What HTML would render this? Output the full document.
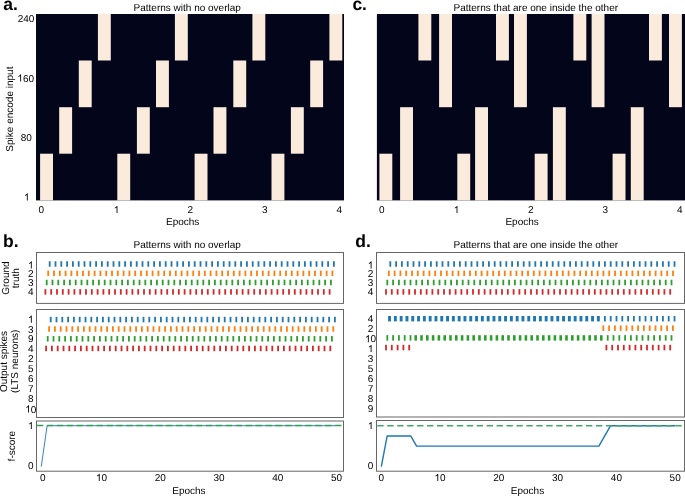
<!DOCTYPE html>
<html><head><meta charset="utf-8"><style>
html,body{margin:0;padding:0;background:#fff;}
svg{display:block;will-change:transform;}
text{font-family:"Liberation Sans",sans-serif;text-rendering:geometricPrecision;}
</style></head><body>
<svg width="685" height="496" viewBox="0 0 685 496">
<rect x="0" y="0" width="685" height="496" fill="#fff"/>
<text x="3.2" y="9.7" text-anchor="start" font-size="17.5" font-weight="bold" fill="#000">a.</text>
<text x="352.4" y="9.7" text-anchor="start" font-size="17.5" font-weight="bold" fill="#000">c.</text>
<text x="3.1" y="246.9" text-anchor="start" font-size="17.5" font-weight="bold" fill="#000">b.</text>
<text x="355.3" y="246.9" text-anchor="start" font-size="17.5" font-weight="bold" fill="#000">d.</text>
<rect x="36" y="14" width="308" height="186.4" fill="#03051a"/>
<rect x="40.1" y="153.7" width="12.9" height="46.7" fill="#faebdd"/>
<rect x="117.3" y="153.7" width="12.9" height="46.7" fill="#faebdd"/>
<rect x="194.6" y="153.7" width="12.9" height="46.7" fill="#faebdd"/>
<rect x="271.5" y="153.7" width="12.9" height="46.7" fill="#faebdd"/>
<rect x="59.2" y="107.2" width="12.9" height="46.5" fill="#faebdd"/>
<rect x="136.9" y="107.2" width="12.9" height="46.5" fill="#faebdd"/>
<rect x="213.5" y="107.2" width="12.9" height="46.5" fill="#faebdd"/>
<rect x="290.9" y="107.2" width="12.9" height="46.5" fill="#faebdd"/>
<rect x="78.8" y="60.5" width="12.9" height="46.7" fill="#faebdd"/>
<rect x="156" y="60.5" width="12.9" height="46.7" fill="#faebdd"/>
<rect x="233.3" y="60.5" width="12.9" height="46.7" fill="#faebdd"/>
<rect x="310.2" y="60.5" width="12.9" height="46.7" fill="#faebdd"/>
<rect x="97.9" y="14" width="12.9" height="46.5" fill="#faebdd"/>
<rect x="174.9" y="14" width="12.9" height="46.5" fill="#faebdd"/>
<rect x="252.4" y="14" width="12.9" height="46.5" fill="#faebdd"/>
<rect x="329.4" y="14" width="12.9" height="46.5" fill="#faebdd"/>
<rect x="376.9" y="14" width="308.1" height="186.4" fill="#03051a"/>
<rect x="379.4" y="153.7" width="12.9" height="46.7" fill="#faebdd"/>
<rect x="457.3" y="153.7" width="12.9" height="46.7" fill="#faebdd"/>
<rect x="534.7" y="153.7" width="12.9" height="46.7" fill="#faebdd"/>
<rect x="612.6" y="153.7" width="12.9" height="46.7" fill="#faebdd"/>
<rect x="400.1" y="107.2" width="12.9" height="93.2" fill="#faebdd"/>
<rect x="475.1" y="107.2" width="12.9" height="93.2" fill="#faebdd"/>
<rect x="552.9" y="107.2" width="12.9" height="93.2" fill="#faebdd"/>
<rect x="630.8" y="107.2" width="12.9" height="93.2" fill="#faebdd"/>
<rect x="418.4" y="14" width="12.9" height="46.5" fill="#faebdd"/>
<rect x="496" y="14" width="12.9" height="46.5" fill="#faebdd"/>
<rect x="573.4" y="14" width="12.9" height="46.5" fill="#faebdd"/>
<rect x="649" y="14" width="12.9" height="46.5" fill="#faebdd"/>
<rect x="439.1" y="14" width="12.9" height="93.2" fill="#faebdd"/>
<rect x="514" y="14" width="12.9" height="93.2" fill="#faebdd"/>
<rect x="591.6" y="14" width="12.9" height="93.2" fill="#faebdd"/>
<rect x="669" y="14" width="12.9" height="93.2" fill="#faebdd"/>
<text x="17.66" y="21.9" font-size="10" fill="#000">2</text>
<text x="23.22" y="21.9" font-size="10" fill="#000">4</text>
<text x="28.78" y="21.9" font-size="10" fill="#000">0</text>
<path transform="translate(17.36,81.5) scale(0.004883,-0.004883)" d="M763,0L583,0L583,1147Q518,1085 412,1023Q306,961 222,930L222,1104Q373,1175 486,1276Q599,1377 646,1472L763,1472Z" fill="#000"/>
<text x="22.92" y="81.5" font-size="10" fill="#000">6</text>
<text x="28.48" y="81.5" font-size="10" fill="#000">0</text>
<text x="20.69" y="141.2" font-size="10" fill="#000">8</text>
<text x="26.25" y="141.2" font-size="10" fill="#000">0</text>
<path transform="translate(24.02,200.5) scale(0.004883,-0.004883)" d="M763,0L583,0L583,1147Q518,1085 412,1023Q306,961 222,930L222,1104Q373,1175 486,1276Q599,1377 646,1472L763,1472Z" fill="#000"/>
<text x="38.62" y="213.1" font-size="10" fill="#000">0</text>
<path transform="translate(113.72,213.1) scale(0.004883,-0.004883)" d="M763,0L583,0L583,1147Q518,1085 412,1023Q306,961 222,930L222,1104Q373,1175 486,1276Q599,1377 646,1472L763,1472Z" fill="#000"/>
<text x="187.62" y="213.1" font-size="10" fill="#000">2</text>
<text x="262.12" y="213.1" font-size="10" fill="#000">3</text>
<text x="336.52" y="213.1" font-size="10" fill="#000">4</text>
<text x="378.92" y="213.1" font-size="10" fill="#000">0</text>
<path transform="translate(453.72,213.1) scale(0.004883,-0.004883)" d="M763,0L583,0L583,1147Q518,1085 412,1023Q306,961 222,930L222,1104Q373,1175 486,1276Q599,1377 646,1472L763,1472Z" fill="#000"/>
<text x="528.02" y="213.1" font-size="10" fill="#000">2</text>
<text x="602.42" y="213.1" font-size="10" fill="#000">3</text>
<text x="677.02" y="213.1" font-size="10" fill="#000">4</text>
<text x="182.7" y="224.8" text-anchor="middle" font-size="10" fill="#000">Epochs</text>
<text x="522.1" y="224.8" text-anchor="middle" font-size="10" fill="#000">Epochs</text>
<text x="187.2" y="11.2" text-anchor="middle" font-size="10" fill="#000">Patterns with no overlap</text>
<text x="535.8" y="11.2" text-anchor="middle" font-size="10" fill="#000">Patterns that are one inside the other</text>
<text transform="translate(13,109.1) rotate(-90)" text-anchor="middle" font-size="10" fill="#000">Spike encode input</text>
<text x="187.2" y="247.7" text-anchor="middle" font-size="10" fill="#000">Patterns with no overlap</text>
<text x="535.8" y="247.7" text-anchor="middle" font-size="10" fill="#000">Patterns that are one inside the other</text>
<rect x="36.5" y="252.5" width="307" height="50.9" fill="none" stroke="#666" stroke-width="1"/>
<rect x="36.5" y="309.5" width="307" height="108" fill="none" stroke="#666" stroke-width="1"/>
<rect x="36.5" y="421" width="307" height="50.2" fill="none" stroke="#666" stroke-width="1"/>
<rect x="376.5" y="252.5" width="308" height="50.9" fill="none" stroke="#666" stroke-width="1"/>
<rect x="376.5" y="309.5" width="308" height="107.5" fill="none" stroke="#666" stroke-width="1"/>
<rect x="376.5" y="420.5" width="308" height="50.7" fill="none" stroke="#666" stroke-width="1"/>
<rect x="48.8" y="261.25" width="1.8" height="5.5" fill="#1f77b4"/>
<rect x="54.6" y="261.25" width="1.8" height="5.5" fill="#1f77b4"/>
<rect x="60.4" y="261.25" width="1.8" height="5.5" fill="#1f77b4"/>
<rect x="66.2" y="261.25" width="1.8" height="5.5" fill="#1f77b4"/>
<rect x="72" y="261.25" width="1.8" height="5.5" fill="#1f77b4"/>
<rect x="77.8" y="261.25" width="1.8" height="5.5" fill="#1f77b4"/>
<rect x="83.6" y="261.25" width="1.8" height="5.5" fill="#1f77b4"/>
<rect x="89.4" y="261.25" width="1.8" height="5.5" fill="#1f77b4"/>
<rect x="95.2" y="261.25" width="1.8" height="5.5" fill="#1f77b4"/>
<rect x="101" y="261.25" width="1.8" height="5.5" fill="#1f77b4"/>
<rect x="106.8" y="261.25" width="1.8" height="5.5" fill="#1f77b4"/>
<rect x="112.6" y="261.25" width="1.8" height="5.5" fill="#1f77b4"/>
<rect x="118.4" y="261.25" width="1.8" height="5.5" fill="#1f77b4"/>
<rect x="124.2" y="261.25" width="1.8" height="5.5" fill="#1f77b4"/>
<rect x="130" y="261.25" width="1.8" height="5.5" fill="#1f77b4"/>
<rect x="135.8" y="261.25" width="1.8" height="5.5" fill="#1f77b4"/>
<rect x="141.6" y="261.25" width="1.8" height="5.5" fill="#1f77b4"/>
<rect x="147.4" y="261.25" width="1.8" height="5.5" fill="#1f77b4"/>
<rect x="153.2" y="261.25" width="1.8" height="5.5" fill="#1f77b4"/>
<rect x="159" y="261.25" width="1.8" height="5.5" fill="#1f77b4"/>
<rect x="164.8" y="261.25" width="1.8" height="5.5" fill="#1f77b4"/>
<rect x="170.6" y="261.25" width="1.8" height="5.5" fill="#1f77b4"/>
<rect x="176.4" y="261.25" width="1.8" height="5.5" fill="#1f77b4"/>
<rect x="182.2" y="261.25" width="1.8" height="5.5" fill="#1f77b4"/>
<rect x="188" y="261.25" width="1.8" height="5.5" fill="#1f77b4"/>
<rect x="193.8" y="261.25" width="1.8" height="5.5" fill="#1f77b4"/>
<rect x="199.6" y="261.25" width="1.8" height="5.5" fill="#1f77b4"/>
<rect x="205.4" y="261.25" width="1.8" height="5.5" fill="#1f77b4"/>
<rect x="211.2" y="261.25" width="1.8" height="5.5" fill="#1f77b4"/>
<rect x="217" y="261.25" width="1.8" height="5.5" fill="#1f77b4"/>
<rect x="222.8" y="261.25" width="1.8" height="5.5" fill="#1f77b4"/>
<rect x="228.6" y="261.25" width="1.8" height="5.5" fill="#1f77b4"/>
<rect x="234.4" y="261.25" width="1.8" height="5.5" fill="#1f77b4"/>
<rect x="240.2" y="261.25" width="1.8" height="5.5" fill="#1f77b4"/>
<rect x="246" y="261.25" width="1.8" height="5.5" fill="#1f77b4"/>
<rect x="251.8" y="261.25" width="1.8" height="5.5" fill="#1f77b4"/>
<rect x="257.6" y="261.25" width="1.8" height="5.5" fill="#1f77b4"/>
<rect x="263.4" y="261.25" width="1.8" height="5.5" fill="#1f77b4"/>
<rect x="269.2" y="261.25" width="1.8" height="5.5" fill="#1f77b4"/>
<rect x="275" y="261.25" width="1.8" height="5.5" fill="#1f77b4"/>
<rect x="280.8" y="261.25" width="1.8" height="5.5" fill="#1f77b4"/>
<rect x="286.6" y="261.25" width="1.8" height="5.5" fill="#1f77b4"/>
<rect x="292.4" y="261.25" width="1.8" height="5.5" fill="#1f77b4"/>
<rect x="298.2" y="261.25" width="1.8" height="5.5" fill="#1f77b4"/>
<rect x="304" y="261.25" width="1.8" height="5.5" fill="#1f77b4"/>
<rect x="309.8" y="261.25" width="1.8" height="5.5" fill="#1f77b4"/>
<rect x="315.6" y="261.25" width="1.8" height="5.5" fill="#1f77b4"/>
<rect x="321.4" y="261.25" width="1.8" height="5.5" fill="#1f77b4"/>
<rect x="327.2" y="261.25" width="1.8" height="5.5" fill="#1f77b4"/>
<rect x="333" y="261.25" width="1.8" height="5.5" fill="#1f77b4"/>
<rect x="47.3" y="270.6" width="1.8" height="5.5" fill="#ff7f0e"/>
<rect x="53.1" y="270.6" width="1.8" height="5.5" fill="#ff7f0e"/>
<rect x="58.9" y="270.6" width="1.8" height="5.5" fill="#ff7f0e"/>
<rect x="64.7" y="270.6" width="1.8" height="5.5" fill="#ff7f0e"/>
<rect x="70.5" y="270.6" width="1.8" height="5.5" fill="#ff7f0e"/>
<rect x="76.3" y="270.6" width="1.8" height="5.5" fill="#ff7f0e"/>
<rect x="82.1" y="270.6" width="1.8" height="5.5" fill="#ff7f0e"/>
<rect x="87.9" y="270.6" width="1.8" height="5.5" fill="#ff7f0e"/>
<rect x="93.7" y="270.6" width="1.8" height="5.5" fill="#ff7f0e"/>
<rect x="99.5" y="270.6" width="1.8" height="5.5" fill="#ff7f0e"/>
<rect x="105.3" y="270.6" width="1.8" height="5.5" fill="#ff7f0e"/>
<rect x="111.1" y="270.6" width="1.8" height="5.5" fill="#ff7f0e"/>
<rect x="116.9" y="270.6" width="1.8" height="5.5" fill="#ff7f0e"/>
<rect x="122.7" y="270.6" width="1.8" height="5.5" fill="#ff7f0e"/>
<rect x="128.5" y="270.6" width="1.8" height="5.5" fill="#ff7f0e"/>
<rect x="134.3" y="270.6" width="1.8" height="5.5" fill="#ff7f0e"/>
<rect x="140.1" y="270.6" width="1.8" height="5.5" fill="#ff7f0e"/>
<rect x="145.9" y="270.6" width="1.8" height="5.5" fill="#ff7f0e"/>
<rect x="151.7" y="270.6" width="1.8" height="5.5" fill="#ff7f0e"/>
<rect x="157.5" y="270.6" width="1.8" height="5.5" fill="#ff7f0e"/>
<rect x="163.3" y="270.6" width="1.8" height="5.5" fill="#ff7f0e"/>
<rect x="169.1" y="270.6" width="1.8" height="5.5" fill="#ff7f0e"/>
<rect x="174.9" y="270.6" width="1.8" height="5.5" fill="#ff7f0e"/>
<rect x="180.7" y="270.6" width="1.8" height="5.5" fill="#ff7f0e"/>
<rect x="186.5" y="270.6" width="1.8" height="5.5" fill="#ff7f0e"/>
<rect x="192.3" y="270.6" width="1.8" height="5.5" fill="#ff7f0e"/>
<rect x="198.1" y="270.6" width="1.8" height="5.5" fill="#ff7f0e"/>
<rect x="203.9" y="270.6" width="1.8" height="5.5" fill="#ff7f0e"/>
<rect x="209.7" y="270.6" width="1.8" height="5.5" fill="#ff7f0e"/>
<rect x="215.5" y="270.6" width="1.8" height="5.5" fill="#ff7f0e"/>
<rect x="221.3" y="270.6" width="1.8" height="5.5" fill="#ff7f0e"/>
<rect x="227.1" y="270.6" width="1.8" height="5.5" fill="#ff7f0e"/>
<rect x="232.9" y="270.6" width="1.8" height="5.5" fill="#ff7f0e"/>
<rect x="238.7" y="270.6" width="1.8" height="5.5" fill="#ff7f0e"/>
<rect x="244.5" y="270.6" width="1.8" height="5.5" fill="#ff7f0e"/>
<rect x="250.3" y="270.6" width="1.8" height="5.5" fill="#ff7f0e"/>
<rect x="256.1" y="270.6" width="1.8" height="5.5" fill="#ff7f0e"/>
<rect x="261.9" y="270.6" width="1.8" height="5.5" fill="#ff7f0e"/>
<rect x="267.7" y="270.6" width="1.8" height="5.5" fill="#ff7f0e"/>
<rect x="273.5" y="270.6" width="1.8" height="5.5" fill="#ff7f0e"/>
<rect x="279.3" y="270.6" width="1.8" height="5.5" fill="#ff7f0e"/>
<rect x="285.1" y="270.6" width="1.8" height="5.5" fill="#ff7f0e"/>
<rect x="290.9" y="270.6" width="1.8" height="5.5" fill="#ff7f0e"/>
<rect x="296.7" y="270.6" width="1.8" height="5.5" fill="#ff7f0e"/>
<rect x="302.5" y="270.6" width="1.8" height="5.5" fill="#ff7f0e"/>
<rect x="308.3" y="270.6" width="1.8" height="5.5" fill="#ff7f0e"/>
<rect x="314.1" y="270.6" width="1.8" height="5.5" fill="#ff7f0e"/>
<rect x="319.9" y="270.6" width="1.8" height="5.5" fill="#ff7f0e"/>
<rect x="325.7" y="270.6" width="1.8" height="5.5" fill="#ff7f0e"/>
<rect x="331.5" y="270.6" width="1.8" height="5.5" fill="#ff7f0e"/>
<rect x="45.8" y="279.75" width="1.8" height="5.5" fill="#2ca02c"/>
<rect x="51.6" y="279.75" width="1.8" height="5.5" fill="#2ca02c"/>
<rect x="57.4" y="279.75" width="1.8" height="5.5" fill="#2ca02c"/>
<rect x="63.2" y="279.75" width="1.8" height="5.5" fill="#2ca02c"/>
<rect x="69" y="279.75" width="1.8" height="5.5" fill="#2ca02c"/>
<rect x="74.8" y="279.75" width="1.8" height="5.5" fill="#2ca02c"/>
<rect x="80.6" y="279.75" width="1.8" height="5.5" fill="#2ca02c"/>
<rect x="86.4" y="279.75" width="1.8" height="5.5" fill="#2ca02c"/>
<rect x="92.2" y="279.75" width="1.8" height="5.5" fill="#2ca02c"/>
<rect x="98" y="279.75" width="1.8" height="5.5" fill="#2ca02c"/>
<rect x="103.8" y="279.75" width="1.8" height="5.5" fill="#2ca02c"/>
<rect x="109.6" y="279.75" width="1.8" height="5.5" fill="#2ca02c"/>
<rect x="115.4" y="279.75" width="1.8" height="5.5" fill="#2ca02c"/>
<rect x="121.2" y="279.75" width="1.8" height="5.5" fill="#2ca02c"/>
<rect x="127" y="279.75" width="1.8" height="5.5" fill="#2ca02c"/>
<rect x="132.8" y="279.75" width="1.8" height="5.5" fill="#2ca02c"/>
<rect x="138.6" y="279.75" width="1.8" height="5.5" fill="#2ca02c"/>
<rect x="144.4" y="279.75" width="1.8" height="5.5" fill="#2ca02c"/>
<rect x="150.2" y="279.75" width="1.8" height="5.5" fill="#2ca02c"/>
<rect x="156" y="279.75" width="1.8" height="5.5" fill="#2ca02c"/>
<rect x="161.8" y="279.75" width="1.8" height="5.5" fill="#2ca02c"/>
<rect x="167.6" y="279.75" width="1.8" height="5.5" fill="#2ca02c"/>
<rect x="173.4" y="279.75" width="1.8" height="5.5" fill="#2ca02c"/>
<rect x="179.2" y="279.75" width="1.8" height="5.5" fill="#2ca02c"/>
<rect x="185" y="279.75" width="1.8" height="5.5" fill="#2ca02c"/>
<rect x="190.8" y="279.75" width="1.8" height="5.5" fill="#2ca02c"/>
<rect x="196.6" y="279.75" width="1.8" height="5.5" fill="#2ca02c"/>
<rect x="202.4" y="279.75" width="1.8" height="5.5" fill="#2ca02c"/>
<rect x="208.2" y="279.75" width="1.8" height="5.5" fill="#2ca02c"/>
<rect x="214" y="279.75" width="1.8" height="5.5" fill="#2ca02c"/>
<rect x="219.8" y="279.75" width="1.8" height="5.5" fill="#2ca02c"/>
<rect x="225.6" y="279.75" width="1.8" height="5.5" fill="#2ca02c"/>
<rect x="231.4" y="279.75" width="1.8" height="5.5" fill="#2ca02c"/>
<rect x="237.2" y="279.75" width="1.8" height="5.5" fill="#2ca02c"/>
<rect x="243" y="279.75" width="1.8" height="5.5" fill="#2ca02c"/>
<rect x="248.8" y="279.75" width="1.8" height="5.5" fill="#2ca02c"/>
<rect x="254.6" y="279.75" width="1.8" height="5.5" fill="#2ca02c"/>
<rect x="260.4" y="279.75" width="1.8" height="5.5" fill="#2ca02c"/>
<rect x="266.2" y="279.75" width="1.8" height="5.5" fill="#2ca02c"/>
<rect x="272" y="279.75" width="1.8" height="5.5" fill="#2ca02c"/>
<rect x="277.8" y="279.75" width="1.8" height="5.5" fill="#2ca02c"/>
<rect x="283.6" y="279.75" width="1.8" height="5.5" fill="#2ca02c"/>
<rect x="289.4" y="279.75" width="1.8" height="5.5" fill="#2ca02c"/>
<rect x="295.2" y="279.75" width="1.8" height="5.5" fill="#2ca02c"/>
<rect x="301" y="279.75" width="1.8" height="5.5" fill="#2ca02c"/>
<rect x="306.8" y="279.75" width="1.8" height="5.5" fill="#2ca02c"/>
<rect x="312.6" y="279.75" width="1.8" height="5.5" fill="#2ca02c"/>
<rect x="318.4" y="279.75" width="1.8" height="5.5" fill="#2ca02c"/>
<rect x="324.2" y="279.75" width="1.8" height="5.5" fill="#2ca02c"/>
<rect x="330" y="279.75" width="1.8" height="5.5" fill="#2ca02c"/>
<rect x="44.5" y="289.15" width="1.8" height="5.5" fill="#d62728"/>
<rect x="50.3" y="289.15" width="1.8" height="5.5" fill="#d62728"/>
<rect x="56.1" y="289.15" width="1.8" height="5.5" fill="#d62728"/>
<rect x="61.9" y="289.15" width="1.8" height="5.5" fill="#d62728"/>
<rect x="67.7" y="289.15" width="1.8" height="5.5" fill="#d62728"/>
<rect x="73.5" y="289.15" width="1.8" height="5.5" fill="#d62728"/>
<rect x="79.3" y="289.15" width="1.8" height="5.5" fill="#d62728"/>
<rect x="85.1" y="289.15" width="1.8" height="5.5" fill="#d62728"/>
<rect x="90.9" y="289.15" width="1.8" height="5.5" fill="#d62728"/>
<rect x="96.7" y="289.15" width="1.8" height="5.5" fill="#d62728"/>
<rect x="102.5" y="289.15" width="1.8" height="5.5" fill="#d62728"/>
<rect x="108.3" y="289.15" width="1.8" height="5.5" fill="#d62728"/>
<rect x="114.1" y="289.15" width="1.8" height="5.5" fill="#d62728"/>
<rect x="119.9" y="289.15" width="1.8" height="5.5" fill="#d62728"/>
<rect x="125.7" y="289.15" width="1.8" height="5.5" fill="#d62728"/>
<rect x="131.5" y="289.15" width="1.8" height="5.5" fill="#d62728"/>
<rect x="137.3" y="289.15" width="1.8" height="5.5" fill="#d62728"/>
<rect x="143.1" y="289.15" width="1.8" height="5.5" fill="#d62728"/>
<rect x="148.9" y="289.15" width="1.8" height="5.5" fill="#d62728"/>
<rect x="154.7" y="289.15" width="1.8" height="5.5" fill="#d62728"/>
<rect x="160.5" y="289.15" width="1.8" height="5.5" fill="#d62728"/>
<rect x="166.3" y="289.15" width="1.8" height="5.5" fill="#d62728"/>
<rect x="172.1" y="289.15" width="1.8" height="5.5" fill="#d62728"/>
<rect x="177.9" y="289.15" width="1.8" height="5.5" fill="#d62728"/>
<rect x="183.7" y="289.15" width="1.8" height="5.5" fill="#d62728"/>
<rect x="189.5" y="289.15" width="1.8" height="5.5" fill="#d62728"/>
<rect x="195.3" y="289.15" width="1.8" height="5.5" fill="#d62728"/>
<rect x="201.1" y="289.15" width="1.8" height="5.5" fill="#d62728"/>
<rect x="206.9" y="289.15" width="1.8" height="5.5" fill="#d62728"/>
<rect x="212.7" y="289.15" width="1.8" height="5.5" fill="#d62728"/>
<rect x="218.5" y="289.15" width="1.8" height="5.5" fill="#d62728"/>
<rect x="224.3" y="289.15" width="1.8" height="5.5" fill="#d62728"/>
<rect x="230.1" y="289.15" width="1.8" height="5.5" fill="#d62728"/>
<rect x="235.9" y="289.15" width="1.8" height="5.5" fill="#d62728"/>
<rect x="241.7" y="289.15" width="1.8" height="5.5" fill="#d62728"/>
<rect x="247.5" y="289.15" width="1.8" height="5.5" fill="#d62728"/>
<rect x="253.3" y="289.15" width="1.8" height="5.5" fill="#d62728"/>
<rect x="259.1" y="289.15" width="1.8" height="5.5" fill="#d62728"/>
<rect x="264.9" y="289.15" width="1.8" height="5.5" fill="#d62728"/>
<rect x="270.7" y="289.15" width="1.8" height="5.5" fill="#d62728"/>
<rect x="276.5" y="289.15" width="1.8" height="5.5" fill="#d62728"/>
<rect x="282.3" y="289.15" width="1.8" height="5.5" fill="#d62728"/>
<rect x="288.1" y="289.15" width="1.8" height="5.5" fill="#d62728"/>
<rect x="293.9" y="289.15" width="1.8" height="5.5" fill="#d62728"/>
<rect x="299.7" y="289.15" width="1.8" height="5.5" fill="#d62728"/>
<rect x="305.5" y="289.15" width="1.8" height="5.5" fill="#d62728"/>
<rect x="311.3" y="289.15" width="1.8" height="5.5" fill="#d62728"/>
<rect x="317.1" y="289.15" width="1.8" height="5.5" fill="#d62728"/>
<rect x="322.9" y="289.15" width="1.8" height="5.5" fill="#d62728"/>
<rect x="328.7" y="289.15" width="1.8" height="5.5" fill="#d62728"/>
<rect x="389.4" y="261.25" width="1.8" height="5.5" fill="#1f77b4"/>
<rect x="395.2" y="261.25" width="1.8" height="5.5" fill="#1f77b4"/>
<rect x="401" y="261.25" width="1.8" height="5.5" fill="#1f77b4"/>
<rect x="406.8" y="261.25" width="1.8" height="5.5" fill="#1f77b4"/>
<rect x="412.6" y="261.25" width="1.8" height="5.5" fill="#1f77b4"/>
<rect x="418.4" y="261.25" width="1.8" height="5.5" fill="#1f77b4"/>
<rect x="424.2" y="261.25" width="1.8" height="5.5" fill="#1f77b4"/>
<rect x="430" y="261.25" width="1.8" height="5.5" fill="#1f77b4"/>
<rect x="435.8" y="261.25" width="1.8" height="5.5" fill="#1f77b4"/>
<rect x="441.6" y="261.25" width="1.8" height="5.5" fill="#1f77b4"/>
<rect x="447.4" y="261.25" width="1.8" height="5.5" fill="#1f77b4"/>
<rect x="453.2" y="261.25" width="1.8" height="5.5" fill="#1f77b4"/>
<rect x="459" y="261.25" width="1.8" height="5.5" fill="#1f77b4"/>
<rect x="464.8" y="261.25" width="1.8" height="5.5" fill="#1f77b4"/>
<rect x="470.6" y="261.25" width="1.8" height="5.5" fill="#1f77b4"/>
<rect x="476.4" y="261.25" width="1.8" height="5.5" fill="#1f77b4"/>
<rect x="482.2" y="261.25" width="1.8" height="5.5" fill="#1f77b4"/>
<rect x="488" y="261.25" width="1.8" height="5.5" fill="#1f77b4"/>
<rect x="493.8" y="261.25" width="1.8" height="5.5" fill="#1f77b4"/>
<rect x="499.6" y="261.25" width="1.8" height="5.5" fill="#1f77b4"/>
<rect x="505.4" y="261.25" width="1.8" height="5.5" fill="#1f77b4"/>
<rect x="511.2" y="261.25" width="1.8" height="5.5" fill="#1f77b4"/>
<rect x="517" y="261.25" width="1.8" height="5.5" fill="#1f77b4"/>
<rect x="522.8" y="261.25" width="1.8" height="5.5" fill="#1f77b4"/>
<rect x="528.6" y="261.25" width="1.8" height="5.5" fill="#1f77b4"/>
<rect x="534.4" y="261.25" width="1.8" height="5.5" fill="#1f77b4"/>
<rect x="540.2" y="261.25" width="1.8" height="5.5" fill="#1f77b4"/>
<rect x="546" y="261.25" width="1.8" height="5.5" fill="#1f77b4"/>
<rect x="551.8" y="261.25" width="1.8" height="5.5" fill="#1f77b4"/>
<rect x="557.6" y="261.25" width="1.8" height="5.5" fill="#1f77b4"/>
<rect x="563.4" y="261.25" width="1.8" height="5.5" fill="#1f77b4"/>
<rect x="569.2" y="261.25" width="1.8" height="5.5" fill="#1f77b4"/>
<rect x="575" y="261.25" width="1.8" height="5.5" fill="#1f77b4"/>
<rect x="580.8" y="261.25" width="1.8" height="5.5" fill="#1f77b4"/>
<rect x="586.6" y="261.25" width="1.8" height="5.5" fill="#1f77b4"/>
<rect x="592.4" y="261.25" width="1.8" height="5.5" fill="#1f77b4"/>
<rect x="598.2" y="261.25" width="1.8" height="5.5" fill="#1f77b4"/>
<rect x="604" y="261.25" width="1.8" height="5.5" fill="#1f77b4"/>
<rect x="609.8" y="261.25" width="1.8" height="5.5" fill="#1f77b4"/>
<rect x="615.6" y="261.25" width="1.8" height="5.5" fill="#1f77b4"/>
<rect x="621.4" y="261.25" width="1.8" height="5.5" fill="#1f77b4"/>
<rect x="627.2" y="261.25" width="1.8" height="5.5" fill="#1f77b4"/>
<rect x="633" y="261.25" width="1.8" height="5.5" fill="#1f77b4"/>
<rect x="638.8" y="261.25" width="1.8" height="5.5" fill="#1f77b4"/>
<rect x="644.6" y="261.25" width="1.8" height="5.5" fill="#1f77b4"/>
<rect x="650.4" y="261.25" width="1.8" height="5.5" fill="#1f77b4"/>
<rect x="656.2" y="261.25" width="1.8" height="5.5" fill="#1f77b4"/>
<rect x="662" y="261.25" width="1.8" height="5.5" fill="#1f77b4"/>
<rect x="667.8" y="261.25" width="1.8" height="5.5" fill="#1f77b4"/>
<rect x="673.6" y="261.25" width="1.8" height="5.5" fill="#1f77b4"/>
<rect x="387.9" y="270.6" width="1.8" height="5.5" fill="#ff7f0e"/>
<rect x="393.7" y="270.6" width="1.8" height="5.5" fill="#ff7f0e"/>
<rect x="399.5" y="270.6" width="1.8" height="5.5" fill="#ff7f0e"/>
<rect x="405.3" y="270.6" width="1.8" height="5.5" fill="#ff7f0e"/>
<rect x="411.1" y="270.6" width="1.8" height="5.5" fill="#ff7f0e"/>
<rect x="416.9" y="270.6" width="1.8" height="5.5" fill="#ff7f0e"/>
<rect x="422.7" y="270.6" width="1.8" height="5.5" fill="#ff7f0e"/>
<rect x="428.5" y="270.6" width="1.8" height="5.5" fill="#ff7f0e"/>
<rect x="434.3" y="270.6" width="1.8" height="5.5" fill="#ff7f0e"/>
<rect x="440.1" y="270.6" width="1.8" height="5.5" fill="#ff7f0e"/>
<rect x="445.9" y="270.6" width="1.8" height="5.5" fill="#ff7f0e"/>
<rect x="451.7" y="270.6" width="1.8" height="5.5" fill="#ff7f0e"/>
<rect x="457.5" y="270.6" width="1.8" height="5.5" fill="#ff7f0e"/>
<rect x="463.3" y="270.6" width="1.8" height="5.5" fill="#ff7f0e"/>
<rect x="469.1" y="270.6" width="1.8" height="5.5" fill="#ff7f0e"/>
<rect x="474.9" y="270.6" width="1.8" height="5.5" fill="#ff7f0e"/>
<rect x="480.7" y="270.6" width="1.8" height="5.5" fill="#ff7f0e"/>
<rect x="486.5" y="270.6" width="1.8" height="5.5" fill="#ff7f0e"/>
<rect x="492.3" y="270.6" width="1.8" height="5.5" fill="#ff7f0e"/>
<rect x="498.1" y="270.6" width="1.8" height="5.5" fill="#ff7f0e"/>
<rect x="503.9" y="270.6" width="1.8" height="5.5" fill="#ff7f0e"/>
<rect x="509.7" y="270.6" width="1.8" height="5.5" fill="#ff7f0e"/>
<rect x="515.5" y="270.6" width="1.8" height="5.5" fill="#ff7f0e"/>
<rect x="521.3" y="270.6" width="1.8" height="5.5" fill="#ff7f0e"/>
<rect x="527.1" y="270.6" width="1.8" height="5.5" fill="#ff7f0e"/>
<rect x="532.9" y="270.6" width="1.8" height="5.5" fill="#ff7f0e"/>
<rect x="538.7" y="270.6" width="1.8" height="5.5" fill="#ff7f0e"/>
<rect x="544.5" y="270.6" width="1.8" height="5.5" fill="#ff7f0e"/>
<rect x="550.3" y="270.6" width="1.8" height="5.5" fill="#ff7f0e"/>
<rect x="556.1" y="270.6" width="1.8" height="5.5" fill="#ff7f0e"/>
<rect x="561.9" y="270.6" width="1.8" height="5.5" fill="#ff7f0e"/>
<rect x="567.7" y="270.6" width="1.8" height="5.5" fill="#ff7f0e"/>
<rect x="573.5" y="270.6" width="1.8" height="5.5" fill="#ff7f0e"/>
<rect x="579.3" y="270.6" width="1.8" height="5.5" fill="#ff7f0e"/>
<rect x="585.1" y="270.6" width="1.8" height="5.5" fill="#ff7f0e"/>
<rect x="590.9" y="270.6" width="1.8" height="5.5" fill="#ff7f0e"/>
<rect x="596.7" y="270.6" width="1.8" height="5.5" fill="#ff7f0e"/>
<rect x="602.5" y="270.6" width="1.8" height="5.5" fill="#ff7f0e"/>
<rect x="608.3" y="270.6" width="1.8" height="5.5" fill="#ff7f0e"/>
<rect x="614.1" y="270.6" width="1.8" height="5.5" fill="#ff7f0e"/>
<rect x="619.9" y="270.6" width="1.8" height="5.5" fill="#ff7f0e"/>
<rect x="625.7" y="270.6" width="1.8" height="5.5" fill="#ff7f0e"/>
<rect x="631.5" y="270.6" width="1.8" height="5.5" fill="#ff7f0e"/>
<rect x="637.3" y="270.6" width="1.8" height="5.5" fill="#ff7f0e"/>
<rect x="643.1" y="270.6" width="1.8" height="5.5" fill="#ff7f0e"/>
<rect x="648.9" y="270.6" width="1.8" height="5.5" fill="#ff7f0e"/>
<rect x="654.7" y="270.6" width="1.8" height="5.5" fill="#ff7f0e"/>
<rect x="660.5" y="270.6" width="1.8" height="5.5" fill="#ff7f0e"/>
<rect x="666.3" y="270.6" width="1.8" height="5.5" fill="#ff7f0e"/>
<rect x="672.1" y="270.6" width="1.8" height="5.5" fill="#ff7f0e"/>
<rect x="386.4" y="279.75" width="1.8" height="5.5" fill="#2ca02c"/>
<rect x="392.2" y="279.75" width="1.8" height="5.5" fill="#2ca02c"/>
<rect x="398" y="279.75" width="1.8" height="5.5" fill="#2ca02c"/>
<rect x="403.8" y="279.75" width="1.8" height="5.5" fill="#2ca02c"/>
<rect x="409.6" y="279.75" width="1.8" height="5.5" fill="#2ca02c"/>
<rect x="415.4" y="279.75" width="1.8" height="5.5" fill="#2ca02c"/>
<rect x="421.2" y="279.75" width="1.8" height="5.5" fill="#2ca02c"/>
<rect x="427" y="279.75" width="1.8" height="5.5" fill="#2ca02c"/>
<rect x="432.8" y="279.75" width="1.8" height="5.5" fill="#2ca02c"/>
<rect x="438.6" y="279.75" width="1.8" height="5.5" fill="#2ca02c"/>
<rect x="444.4" y="279.75" width="1.8" height="5.5" fill="#2ca02c"/>
<rect x="450.2" y="279.75" width="1.8" height="5.5" fill="#2ca02c"/>
<rect x="456" y="279.75" width="1.8" height="5.5" fill="#2ca02c"/>
<rect x="461.8" y="279.75" width="1.8" height="5.5" fill="#2ca02c"/>
<rect x="467.6" y="279.75" width="1.8" height="5.5" fill="#2ca02c"/>
<rect x="473.4" y="279.75" width="1.8" height="5.5" fill="#2ca02c"/>
<rect x="479.2" y="279.75" width="1.8" height="5.5" fill="#2ca02c"/>
<rect x="485" y="279.75" width="1.8" height="5.5" fill="#2ca02c"/>
<rect x="490.8" y="279.75" width="1.8" height="5.5" fill="#2ca02c"/>
<rect x="496.6" y="279.75" width="1.8" height="5.5" fill="#2ca02c"/>
<rect x="502.4" y="279.75" width="1.8" height="5.5" fill="#2ca02c"/>
<rect x="508.2" y="279.75" width="1.8" height="5.5" fill="#2ca02c"/>
<rect x="514" y="279.75" width="1.8" height="5.5" fill="#2ca02c"/>
<rect x="519.8" y="279.75" width="1.8" height="5.5" fill="#2ca02c"/>
<rect x="525.6" y="279.75" width="1.8" height="5.5" fill="#2ca02c"/>
<rect x="531.4" y="279.75" width="1.8" height="5.5" fill="#2ca02c"/>
<rect x="537.2" y="279.75" width="1.8" height="5.5" fill="#2ca02c"/>
<rect x="543" y="279.75" width="1.8" height="5.5" fill="#2ca02c"/>
<rect x="548.8" y="279.75" width="1.8" height="5.5" fill="#2ca02c"/>
<rect x="554.6" y="279.75" width="1.8" height="5.5" fill="#2ca02c"/>
<rect x="560.4" y="279.75" width="1.8" height="5.5" fill="#2ca02c"/>
<rect x="566.2" y="279.75" width="1.8" height="5.5" fill="#2ca02c"/>
<rect x="572" y="279.75" width="1.8" height="5.5" fill="#2ca02c"/>
<rect x="577.8" y="279.75" width="1.8" height="5.5" fill="#2ca02c"/>
<rect x="583.6" y="279.75" width="1.8" height="5.5" fill="#2ca02c"/>
<rect x="589.4" y="279.75" width="1.8" height="5.5" fill="#2ca02c"/>
<rect x="595.2" y="279.75" width="1.8" height="5.5" fill="#2ca02c"/>
<rect x="601" y="279.75" width="1.8" height="5.5" fill="#2ca02c"/>
<rect x="606.8" y="279.75" width="1.8" height="5.5" fill="#2ca02c"/>
<rect x="612.6" y="279.75" width="1.8" height="5.5" fill="#2ca02c"/>
<rect x="618.4" y="279.75" width="1.8" height="5.5" fill="#2ca02c"/>
<rect x="624.2" y="279.75" width="1.8" height="5.5" fill="#2ca02c"/>
<rect x="630" y="279.75" width="1.8" height="5.5" fill="#2ca02c"/>
<rect x="635.8" y="279.75" width="1.8" height="5.5" fill="#2ca02c"/>
<rect x="641.6" y="279.75" width="1.8" height="5.5" fill="#2ca02c"/>
<rect x="647.4" y="279.75" width="1.8" height="5.5" fill="#2ca02c"/>
<rect x="653.2" y="279.75" width="1.8" height="5.5" fill="#2ca02c"/>
<rect x="659" y="279.75" width="1.8" height="5.5" fill="#2ca02c"/>
<rect x="664.8" y="279.75" width="1.8" height="5.5" fill="#2ca02c"/>
<rect x="670.6" y="279.75" width="1.8" height="5.5" fill="#2ca02c"/>
<rect x="385.1" y="289.15" width="1.8" height="5.5" fill="#d62728"/>
<rect x="390.9" y="289.15" width="1.8" height="5.5" fill="#d62728"/>
<rect x="396.7" y="289.15" width="1.8" height="5.5" fill="#d62728"/>
<rect x="402.5" y="289.15" width="1.8" height="5.5" fill="#d62728"/>
<rect x="408.3" y="289.15" width="1.8" height="5.5" fill="#d62728"/>
<rect x="414.1" y="289.15" width="1.8" height="5.5" fill="#d62728"/>
<rect x="419.9" y="289.15" width="1.8" height="5.5" fill="#d62728"/>
<rect x="425.7" y="289.15" width="1.8" height="5.5" fill="#d62728"/>
<rect x="431.5" y="289.15" width="1.8" height="5.5" fill="#d62728"/>
<rect x="437.3" y="289.15" width="1.8" height="5.5" fill="#d62728"/>
<rect x="443.1" y="289.15" width="1.8" height="5.5" fill="#d62728"/>
<rect x="448.9" y="289.15" width="1.8" height="5.5" fill="#d62728"/>
<rect x="454.7" y="289.15" width="1.8" height="5.5" fill="#d62728"/>
<rect x="460.5" y="289.15" width="1.8" height="5.5" fill="#d62728"/>
<rect x="466.3" y="289.15" width="1.8" height="5.5" fill="#d62728"/>
<rect x="472.1" y="289.15" width="1.8" height="5.5" fill="#d62728"/>
<rect x="477.9" y="289.15" width="1.8" height="5.5" fill="#d62728"/>
<rect x="483.7" y="289.15" width="1.8" height="5.5" fill="#d62728"/>
<rect x="489.5" y="289.15" width="1.8" height="5.5" fill="#d62728"/>
<rect x="495.3" y="289.15" width="1.8" height="5.5" fill="#d62728"/>
<rect x="501.1" y="289.15" width="1.8" height="5.5" fill="#d62728"/>
<rect x="506.9" y="289.15" width="1.8" height="5.5" fill="#d62728"/>
<rect x="512.7" y="289.15" width="1.8" height="5.5" fill="#d62728"/>
<rect x="518.5" y="289.15" width="1.8" height="5.5" fill="#d62728"/>
<rect x="524.3" y="289.15" width="1.8" height="5.5" fill="#d62728"/>
<rect x="530.1" y="289.15" width="1.8" height="5.5" fill="#d62728"/>
<rect x="535.9" y="289.15" width="1.8" height="5.5" fill="#d62728"/>
<rect x="541.7" y="289.15" width="1.8" height="5.5" fill="#d62728"/>
<rect x="547.5" y="289.15" width="1.8" height="5.5" fill="#d62728"/>
<rect x="553.3" y="289.15" width="1.8" height="5.5" fill="#d62728"/>
<rect x="559.1" y="289.15" width="1.8" height="5.5" fill="#d62728"/>
<rect x="564.9" y="289.15" width="1.8" height="5.5" fill="#d62728"/>
<rect x="570.7" y="289.15" width="1.8" height="5.5" fill="#d62728"/>
<rect x="576.5" y="289.15" width="1.8" height="5.5" fill="#d62728"/>
<rect x="582.3" y="289.15" width="1.8" height="5.5" fill="#d62728"/>
<rect x="588.1" y="289.15" width="1.8" height="5.5" fill="#d62728"/>
<rect x="593.9" y="289.15" width="1.8" height="5.5" fill="#d62728"/>
<rect x="599.7" y="289.15" width="1.8" height="5.5" fill="#d62728"/>
<rect x="605.5" y="289.15" width="1.8" height="5.5" fill="#d62728"/>
<rect x="611.3" y="289.15" width="1.8" height="5.5" fill="#d62728"/>
<rect x="617.1" y="289.15" width="1.8" height="5.5" fill="#d62728"/>
<rect x="622.9" y="289.15" width="1.8" height="5.5" fill="#d62728"/>
<rect x="628.7" y="289.15" width="1.8" height="5.5" fill="#d62728"/>
<rect x="634.5" y="289.15" width="1.8" height="5.5" fill="#d62728"/>
<rect x="640.3" y="289.15" width="1.8" height="5.5" fill="#d62728"/>
<rect x="646.1" y="289.15" width="1.8" height="5.5" fill="#d62728"/>
<rect x="651.9" y="289.15" width="1.8" height="5.5" fill="#d62728"/>
<rect x="657.7" y="289.15" width="1.8" height="5.5" fill="#d62728"/>
<rect x="663.5" y="289.15" width="1.8" height="5.5" fill="#d62728"/>
<rect x="669.3" y="289.15" width="1.8" height="5.5" fill="#d62728"/>
<path transform="translate(28.02,268.5) scale(0.004883,-0.004883)" d="M763,0L583,0L583,1147Q518,1085 412,1023Q306,961 222,930L222,1104Q373,1175 486,1276Q599,1377 646,1472L763,1472Z" fill="#000"/>
<text x="28.02" y="277.3" font-size="10" fill="#000">2</text>
<text x="28.02" y="286.1" font-size="10" fill="#000">3</text>
<text x="28.02" y="295.4" font-size="10" fill="#000">4</text>
<path transform="translate(367.82,268.5) scale(0.004883,-0.004883)" d="M763,0L583,0L583,1147Q518,1085 412,1023Q306,961 222,930L222,1104Q373,1175 486,1276Q599,1377 646,1472L763,1472Z" fill="#000"/>
<text x="367.82" y="277.3" font-size="10" fill="#000">2</text>
<text x="367.82" y="286.1" font-size="10" fill="#000">3</text>
<text x="367.82" y="295.4" font-size="10" fill="#000">4</text>
<rect x="49.8" y="316.8" width="1.8" height="5.5" fill="#1f77b4"/>
<rect x="55.6" y="316.8" width="1.8" height="5.5" fill="#1f77b4"/>
<rect x="61.4" y="316.8" width="1.8" height="5.5" fill="#1f77b4"/>
<rect x="67.2" y="316.8" width="1.8" height="5.5" fill="#1f77b4"/>
<rect x="73" y="316.8" width="1.8" height="5.5" fill="#1f77b4"/>
<rect x="78.8" y="316.8" width="1.8" height="5.5" fill="#1f77b4"/>
<rect x="84.6" y="316.8" width="1.8" height="5.5" fill="#1f77b4"/>
<rect x="90.4" y="316.8" width="1.8" height="5.5" fill="#1f77b4"/>
<rect x="96.2" y="316.8" width="1.8" height="5.5" fill="#1f77b4"/>
<rect x="102" y="316.8" width="1.8" height="5.5" fill="#1f77b4"/>
<rect x="107.8" y="316.8" width="1.8" height="5.5" fill="#1f77b4"/>
<rect x="113.6" y="316.8" width="1.8" height="5.5" fill="#1f77b4"/>
<rect x="119.4" y="316.8" width="1.8" height="5.5" fill="#1f77b4"/>
<rect x="125.2" y="316.8" width="1.8" height="5.5" fill="#1f77b4"/>
<rect x="131" y="316.8" width="1.8" height="5.5" fill="#1f77b4"/>
<rect x="136.8" y="316.8" width="1.8" height="5.5" fill="#1f77b4"/>
<rect x="142.6" y="316.8" width="1.8" height="5.5" fill="#1f77b4"/>
<rect x="148.4" y="316.8" width="1.8" height="5.5" fill="#1f77b4"/>
<rect x="154.2" y="316.8" width="1.8" height="5.5" fill="#1f77b4"/>
<rect x="160" y="316.8" width="1.8" height="5.5" fill="#1f77b4"/>
<rect x="165.8" y="316.8" width="1.8" height="5.5" fill="#1f77b4"/>
<rect x="171.6" y="316.8" width="1.8" height="5.5" fill="#1f77b4"/>
<rect x="177.4" y="316.8" width="1.8" height="5.5" fill="#1f77b4"/>
<rect x="183.2" y="316.8" width="1.8" height="5.5" fill="#1f77b4"/>
<rect x="189" y="316.8" width="1.8" height="5.5" fill="#1f77b4"/>
<rect x="194.8" y="316.8" width="1.8" height="5.5" fill="#1f77b4"/>
<rect x="200.6" y="316.8" width="1.8" height="5.5" fill="#1f77b4"/>
<rect x="206.4" y="316.8" width="1.8" height="5.5" fill="#1f77b4"/>
<rect x="212.2" y="316.8" width="1.8" height="5.5" fill="#1f77b4"/>
<rect x="218" y="316.8" width="1.8" height="5.5" fill="#1f77b4"/>
<rect x="223.8" y="316.8" width="1.8" height="5.5" fill="#1f77b4"/>
<rect x="229.6" y="316.8" width="1.8" height="5.5" fill="#1f77b4"/>
<rect x="235.4" y="316.8" width="1.8" height="5.5" fill="#1f77b4"/>
<rect x="241.2" y="316.8" width="1.8" height="5.5" fill="#1f77b4"/>
<rect x="247" y="316.8" width="1.8" height="5.5" fill="#1f77b4"/>
<rect x="252.8" y="316.8" width="1.8" height="5.5" fill="#1f77b4"/>
<rect x="258.6" y="316.8" width="1.8" height="5.5" fill="#1f77b4"/>
<rect x="264.4" y="316.8" width="1.8" height="5.5" fill="#1f77b4"/>
<rect x="270.2" y="316.8" width="1.8" height="5.5" fill="#1f77b4"/>
<rect x="276" y="316.8" width="1.8" height="5.5" fill="#1f77b4"/>
<rect x="281.8" y="316.8" width="1.8" height="5.5" fill="#1f77b4"/>
<rect x="287.6" y="316.8" width="1.8" height="5.5" fill="#1f77b4"/>
<rect x="293.4" y="316.8" width="1.8" height="5.5" fill="#1f77b4"/>
<rect x="299.2" y="316.8" width="1.8" height="5.5" fill="#1f77b4"/>
<rect x="305" y="316.8" width="1.8" height="5.5" fill="#1f77b4"/>
<rect x="310.8" y="316.8" width="1.8" height="5.5" fill="#1f77b4"/>
<rect x="316.6" y="316.8" width="1.8" height="5.5" fill="#1f77b4"/>
<rect x="322.4" y="316.8" width="1.8" height="5.5" fill="#1f77b4"/>
<rect x="328.2" y="316.8" width="1.8" height="5.5" fill="#1f77b4"/>
<rect x="334" y="316.8" width="1.8" height="5.5" fill="#1f77b4"/>
<rect x="48.2" y="326.25" width="1.8" height="5.5" fill="#ff7f0e"/>
<rect x="54" y="326.25" width="1.8" height="5.5" fill="#ff7f0e"/>
<rect x="59.8" y="326.25" width="1.8" height="5.5" fill="#ff7f0e"/>
<rect x="65.6" y="326.25" width="1.8" height="5.5" fill="#ff7f0e"/>
<rect x="71.4" y="326.25" width="1.8" height="5.5" fill="#ff7f0e"/>
<rect x="77.2" y="326.25" width="1.8" height="5.5" fill="#ff7f0e"/>
<rect x="83" y="326.25" width="1.8" height="5.5" fill="#ff7f0e"/>
<rect x="88.8" y="326.25" width="1.8" height="5.5" fill="#ff7f0e"/>
<rect x="94.6" y="326.25" width="1.8" height="5.5" fill="#ff7f0e"/>
<rect x="100.4" y="326.25" width="1.8" height="5.5" fill="#ff7f0e"/>
<rect x="106.2" y="326.25" width="1.8" height="5.5" fill="#ff7f0e"/>
<rect x="112" y="326.25" width="1.8" height="5.5" fill="#ff7f0e"/>
<rect x="117.8" y="326.25" width="1.8" height="5.5" fill="#ff7f0e"/>
<rect x="123.6" y="326.25" width="1.8" height="5.5" fill="#ff7f0e"/>
<rect x="129.4" y="326.25" width="1.8" height="5.5" fill="#ff7f0e"/>
<rect x="135.2" y="326.25" width="1.8" height="5.5" fill="#ff7f0e"/>
<rect x="141" y="326.25" width="1.8" height="5.5" fill="#ff7f0e"/>
<rect x="146.8" y="326.25" width="1.8" height="5.5" fill="#ff7f0e"/>
<rect x="152.6" y="326.25" width="1.8" height="5.5" fill="#ff7f0e"/>
<rect x="158.4" y="326.25" width="1.8" height="5.5" fill="#ff7f0e"/>
<rect x="164.2" y="326.25" width="1.8" height="5.5" fill="#ff7f0e"/>
<rect x="170" y="326.25" width="1.8" height="5.5" fill="#ff7f0e"/>
<rect x="175.8" y="326.25" width="1.8" height="5.5" fill="#ff7f0e"/>
<rect x="181.6" y="326.25" width="1.8" height="5.5" fill="#ff7f0e"/>
<rect x="187.4" y="326.25" width="1.8" height="5.5" fill="#ff7f0e"/>
<rect x="193.2" y="326.25" width="1.8" height="5.5" fill="#ff7f0e"/>
<rect x="199" y="326.25" width="1.8" height="5.5" fill="#ff7f0e"/>
<rect x="204.8" y="326.25" width="1.8" height="5.5" fill="#ff7f0e"/>
<rect x="210.6" y="326.25" width="1.8" height="5.5" fill="#ff7f0e"/>
<rect x="216.4" y="326.25" width="1.8" height="5.5" fill="#ff7f0e"/>
<rect x="222.2" y="326.25" width="1.8" height="5.5" fill="#ff7f0e"/>
<rect x="228" y="326.25" width="1.8" height="5.5" fill="#ff7f0e"/>
<rect x="233.8" y="326.25" width="1.8" height="5.5" fill="#ff7f0e"/>
<rect x="239.6" y="326.25" width="1.8" height="5.5" fill="#ff7f0e"/>
<rect x="245.4" y="326.25" width="1.8" height="5.5" fill="#ff7f0e"/>
<rect x="251.2" y="326.25" width="1.8" height="5.5" fill="#ff7f0e"/>
<rect x="257" y="326.25" width="1.8" height="5.5" fill="#ff7f0e"/>
<rect x="262.8" y="326.25" width="1.8" height="5.5" fill="#ff7f0e"/>
<rect x="268.6" y="326.25" width="1.8" height="5.5" fill="#ff7f0e"/>
<rect x="274.4" y="326.25" width="1.8" height="5.5" fill="#ff7f0e"/>
<rect x="280.2" y="326.25" width="1.8" height="5.5" fill="#ff7f0e"/>
<rect x="286" y="326.25" width="1.8" height="5.5" fill="#ff7f0e"/>
<rect x="291.8" y="326.25" width="1.8" height="5.5" fill="#ff7f0e"/>
<rect x="297.6" y="326.25" width="1.8" height="5.5" fill="#ff7f0e"/>
<rect x="303.4" y="326.25" width="1.8" height="5.5" fill="#ff7f0e"/>
<rect x="309.2" y="326.25" width="1.8" height="5.5" fill="#ff7f0e"/>
<rect x="315" y="326.25" width="1.8" height="5.5" fill="#ff7f0e"/>
<rect x="320.8" y="326.25" width="1.8" height="5.5" fill="#ff7f0e"/>
<rect x="326.6" y="326.25" width="1.8" height="5.5" fill="#ff7f0e"/>
<rect x="332.4" y="326.25" width="1.8" height="5.5" fill="#ff7f0e"/>
<rect x="46.8" y="336.05" width="1.8" height="5.5" fill="#2ca02c"/>
<rect x="52.6" y="336.05" width="1.8" height="5.5" fill="#2ca02c"/>
<rect x="58.4" y="336.05" width="1.8" height="5.5" fill="#2ca02c"/>
<rect x="64.2" y="336.05" width="1.8" height="5.5" fill="#2ca02c"/>
<rect x="70" y="336.05" width="1.8" height="5.5" fill="#2ca02c"/>
<rect x="75.8" y="336.05" width="1.8" height="5.5" fill="#2ca02c"/>
<rect x="81.6" y="336.05" width="1.8" height="5.5" fill="#2ca02c"/>
<rect x="87.4" y="336.05" width="1.8" height="5.5" fill="#2ca02c"/>
<rect x="93.2" y="336.05" width="1.8" height="5.5" fill="#2ca02c"/>
<rect x="99" y="336.05" width="1.8" height="5.5" fill="#2ca02c"/>
<rect x="104.8" y="336.05" width="1.8" height="5.5" fill="#2ca02c"/>
<rect x="110.6" y="336.05" width="1.8" height="5.5" fill="#2ca02c"/>
<rect x="116.4" y="336.05" width="1.8" height="5.5" fill="#2ca02c"/>
<rect x="122.2" y="336.05" width="1.8" height="5.5" fill="#2ca02c"/>
<rect x="128" y="336.05" width="1.8" height="5.5" fill="#2ca02c"/>
<rect x="133.8" y="336.05" width="1.8" height="5.5" fill="#2ca02c"/>
<rect x="139.6" y="336.05" width="1.8" height="5.5" fill="#2ca02c"/>
<rect x="145.4" y="336.05" width="1.8" height="5.5" fill="#2ca02c"/>
<rect x="151.2" y="336.05" width="1.8" height="5.5" fill="#2ca02c"/>
<rect x="157" y="336.05" width="1.8" height="5.5" fill="#2ca02c"/>
<rect x="162.8" y="336.05" width="1.8" height="5.5" fill="#2ca02c"/>
<rect x="168.6" y="336.05" width="1.8" height="5.5" fill="#2ca02c"/>
<rect x="174.4" y="336.05" width="1.8" height="5.5" fill="#2ca02c"/>
<rect x="180.2" y="336.05" width="1.8" height="5.5" fill="#2ca02c"/>
<rect x="186" y="336.05" width="1.8" height="5.5" fill="#2ca02c"/>
<rect x="191.8" y="336.05" width="1.8" height="5.5" fill="#2ca02c"/>
<rect x="197.6" y="336.05" width="1.8" height="5.5" fill="#2ca02c"/>
<rect x="203.4" y="336.05" width="1.8" height="5.5" fill="#2ca02c"/>
<rect x="209.2" y="336.05" width="1.8" height="5.5" fill="#2ca02c"/>
<rect x="215" y="336.05" width="1.8" height="5.5" fill="#2ca02c"/>
<rect x="220.8" y="336.05" width="1.8" height="5.5" fill="#2ca02c"/>
<rect x="226.6" y="336.05" width="1.8" height="5.5" fill="#2ca02c"/>
<rect x="232.4" y="336.05" width="1.8" height="5.5" fill="#2ca02c"/>
<rect x="238.2" y="336.05" width="1.8" height="5.5" fill="#2ca02c"/>
<rect x="244" y="336.05" width="1.8" height="5.5" fill="#2ca02c"/>
<rect x="249.8" y="336.05" width="1.8" height="5.5" fill="#2ca02c"/>
<rect x="255.6" y="336.05" width="1.8" height="5.5" fill="#2ca02c"/>
<rect x="261.4" y="336.05" width="1.8" height="5.5" fill="#2ca02c"/>
<rect x="267.2" y="336.05" width="1.8" height="5.5" fill="#2ca02c"/>
<rect x="273" y="336.05" width="1.8" height="5.5" fill="#2ca02c"/>
<rect x="278.8" y="336.05" width="1.8" height="5.5" fill="#2ca02c"/>
<rect x="284.6" y="336.05" width="1.8" height="5.5" fill="#2ca02c"/>
<rect x="290.4" y="336.05" width="1.8" height="5.5" fill="#2ca02c"/>
<rect x="296.2" y="336.05" width="1.8" height="5.5" fill="#2ca02c"/>
<rect x="302" y="336.05" width="1.8" height="5.5" fill="#2ca02c"/>
<rect x="307.8" y="336.05" width="1.8" height="5.5" fill="#2ca02c"/>
<rect x="313.6" y="336.05" width="1.8" height="5.5" fill="#2ca02c"/>
<rect x="319.4" y="336.05" width="1.8" height="5.5" fill="#2ca02c"/>
<rect x="325.2" y="336.05" width="1.8" height="5.5" fill="#2ca02c"/>
<rect x="331" y="336.05" width="1.8" height="5.5" fill="#2ca02c"/>
<rect x="45.2" y="345.7" width="1.8" height="5.5" fill="#d62728"/>
<rect x="51" y="345.7" width="1.8" height="5.5" fill="#d62728"/>
<rect x="56.8" y="345.7" width="1.8" height="5.5" fill="#d62728"/>
<rect x="62.6" y="345.7" width="1.8" height="5.5" fill="#d62728"/>
<rect x="68.4" y="345.7" width="1.8" height="5.5" fill="#d62728"/>
<rect x="74.2" y="345.7" width="1.8" height="5.5" fill="#d62728"/>
<rect x="80" y="345.7" width="1.8" height="5.5" fill="#d62728"/>
<rect x="85.8" y="345.7" width="1.8" height="5.5" fill="#d62728"/>
<rect x="91.6" y="345.7" width="1.8" height="5.5" fill="#d62728"/>
<rect x="97.4" y="345.7" width="1.8" height="5.5" fill="#d62728"/>
<rect x="103.2" y="345.7" width="1.8" height="5.5" fill="#d62728"/>
<rect x="109" y="345.7" width="1.8" height="5.5" fill="#d62728"/>
<rect x="114.8" y="345.7" width="1.8" height="5.5" fill="#d62728"/>
<rect x="120.6" y="345.7" width="1.8" height="5.5" fill="#d62728"/>
<rect x="126.4" y="345.7" width="1.8" height="5.5" fill="#d62728"/>
<rect x="132.2" y="345.7" width="1.8" height="5.5" fill="#d62728"/>
<rect x="138" y="345.7" width="1.8" height="5.5" fill="#d62728"/>
<rect x="143.8" y="345.7" width="1.8" height="5.5" fill="#d62728"/>
<rect x="149.6" y="345.7" width="1.8" height="5.5" fill="#d62728"/>
<rect x="155.4" y="345.7" width="1.8" height="5.5" fill="#d62728"/>
<rect x="161.2" y="345.7" width="1.8" height="5.5" fill="#d62728"/>
<rect x="167" y="345.7" width="1.8" height="5.5" fill="#d62728"/>
<rect x="172.8" y="345.7" width="1.8" height="5.5" fill="#d62728"/>
<rect x="178.6" y="345.7" width="1.8" height="5.5" fill="#d62728"/>
<rect x="184.4" y="345.7" width="1.8" height="5.5" fill="#d62728"/>
<rect x="190.2" y="345.7" width="1.8" height="5.5" fill="#d62728"/>
<rect x="196" y="345.7" width="1.8" height="5.5" fill="#d62728"/>
<rect x="201.8" y="345.7" width="1.8" height="5.5" fill="#d62728"/>
<rect x="207.6" y="345.7" width="1.8" height="5.5" fill="#d62728"/>
<rect x="213.4" y="345.7" width="1.8" height="5.5" fill="#d62728"/>
<rect x="219.2" y="345.7" width="1.8" height="5.5" fill="#d62728"/>
<rect x="225" y="345.7" width="1.8" height="5.5" fill="#d62728"/>
<rect x="230.8" y="345.7" width="1.8" height="5.5" fill="#d62728"/>
<rect x="236.6" y="345.7" width="1.8" height="5.5" fill="#d62728"/>
<rect x="242.4" y="345.7" width="1.8" height="5.5" fill="#d62728"/>
<rect x="248.2" y="345.7" width="1.8" height="5.5" fill="#d62728"/>
<rect x="254" y="345.7" width="1.8" height="5.5" fill="#d62728"/>
<rect x="259.8" y="345.7" width="1.8" height="5.5" fill="#d62728"/>
<rect x="265.6" y="345.7" width="1.8" height="5.5" fill="#d62728"/>
<rect x="271.4" y="345.7" width="1.8" height="5.5" fill="#d62728"/>
<rect x="277.2" y="345.7" width="1.8" height="5.5" fill="#d62728"/>
<rect x="283" y="345.7" width="1.8" height="5.5" fill="#d62728"/>
<rect x="288.8" y="345.7" width="1.8" height="5.5" fill="#d62728"/>
<rect x="294.6" y="345.7" width="1.8" height="5.5" fill="#d62728"/>
<rect x="300.4" y="345.7" width="1.8" height="5.5" fill="#d62728"/>
<rect x="306.2" y="345.7" width="1.8" height="5.5" fill="#d62728"/>
<rect x="312" y="345.7" width="1.8" height="5.5" fill="#d62728"/>
<rect x="317.8" y="345.7" width="1.8" height="5.5" fill="#d62728"/>
<rect x="323.6" y="345.7" width="1.8" height="5.5" fill="#d62728"/>
<rect x="329.4" y="345.7" width="1.8" height="5.5" fill="#d62728"/>
<path transform="translate(28.02,322.75) scale(0.004883,-0.004883)" d="M763,0L583,0L583,1147Q518,1085 412,1023Q306,961 222,930L222,1104Q373,1175 486,1276Q599,1377 646,1472L763,1472Z" fill="#000"/>
<text x="28.02" y="332.65" font-size="10" fill="#000">3</text>
<text x="28.02" y="342.35" font-size="10" fill="#000">9</text>
<text x="28.02" y="352.05" font-size="10" fill="#000">4</text>
<text x="28.02" y="362.2" font-size="10" fill="#000">2</text>
<text x="28.02" y="372.2" font-size="10" fill="#000">5</text>
<text x="28.02" y="382.2" font-size="10" fill="#000">6</text>
<text x="28.02" y="392.1" font-size="10" fill="#000">7</text>
<text x="28.02" y="402.1" font-size="10" fill="#000">8</text>
<path transform="translate(25.24,412.55) scale(0.004883,-0.004883)" d="M763,0L583,0L583,1147Q518,1085 412,1023Q306,961 222,930L222,1104Q373,1175 486,1276Q599,1377 646,1472L763,1472Z" fill="#000"/>
<text x="30.8" y="412.55" font-size="10" fill="#000">0</text>
<rect x="388.1" y="316" width="2.9" height="5.4" fill="#1f77b4"/>
<rect x="386.4" y="335.15" width="1.8" height="5.5" fill="#2ca02c"/>
<rect x="385.1" y="344.85" width="1.8" height="5.5" fill="#d62728"/>
<rect x="393.9" y="316" width="2.9" height="5.4" fill="#1f77b4"/>
<rect x="392.2" y="335.15" width="1.8" height="5.5" fill="#2ca02c"/>
<rect x="390.9" y="344.85" width="1.8" height="5.5" fill="#d62728"/>
<rect x="399.7" y="316" width="2.9" height="5.4" fill="#1f77b4"/>
<rect x="398" y="335.15" width="1.8" height="5.5" fill="#2ca02c"/>
<rect x="396.7" y="344.85" width="1.8" height="5.5" fill="#d62728"/>
<rect x="405.5" y="316" width="2.9" height="5.4" fill="#1f77b4"/>
<rect x="403.8" y="335.15" width="1.8" height="5.5" fill="#2ca02c"/>
<rect x="402.5" y="344.85" width="1.8" height="5.5" fill="#d62728"/>
<rect x="411.3" y="316" width="2.9" height="5.4" fill="#1f77b4"/>
<rect x="409.6" y="335.15" width="1.8" height="5.5" fill="#2ca02c"/>
<rect x="408.3" y="344.85" width="1.8" height="5.5" fill="#d62728"/>
<rect x="417.1" y="316" width="2.9" height="5.4" fill="#1f77b4"/>
<rect x="414.4" y="335.2" width="2.6" height="5.4" fill="#2ca02c"/>
<rect x="422.9" y="316" width="2.9" height="5.4" fill="#1f77b4"/>
<rect x="420.2" y="335.2" width="2.6" height="5.4" fill="#2ca02c"/>
<rect x="428.7" y="316" width="2.9" height="5.4" fill="#1f77b4"/>
<rect x="426" y="335.2" width="2.6" height="5.4" fill="#2ca02c"/>
<rect x="434.5" y="316" width="2.9" height="5.4" fill="#1f77b4"/>
<rect x="431.8" y="335.2" width="2.6" height="5.4" fill="#2ca02c"/>
<rect x="440.3" y="316" width="2.9" height="5.4" fill="#1f77b4"/>
<rect x="437.6" y="335.2" width="2.6" height="5.4" fill="#2ca02c"/>
<rect x="446.1" y="316" width="2.9" height="5.4" fill="#1f77b4"/>
<rect x="443.4" y="335.2" width="2.6" height="5.4" fill="#2ca02c"/>
<rect x="451.9" y="316" width="2.9" height="5.4" fill="#1f77b4"/>
<rect x="449.2" y="335.2" width="2.6" height="5.4" fill="#2ca02c"/>
<rect x="457.7" y="316" width="2.9" height="5.4" fill="#1f77b4"/>
<rect x="455" y="335.2" width="2.6" height="5.4" fill="#2ca02c"/>
<rect x="463.5" y="316" width="2.9" height="5.4" fill="#1f77b4"/>
<rect x="460.8" y="335.2" width="2.6" height="5.4" fill="#2ca02c"/>
<rect x="469.3" y="316" width="2.9" height="5.4" fill="#1f77b4"/>
<rect x="466.6" y="335.2" width="2.6" height="5.4" fill="#2ca02c"/>
<rect x="475.1" y="316" width="2.9" height="5.4" fill="#1f77b4"/>
<rect x="472.4" y="335.2" width="2.6" height="5.4" fill="#2ca02c"/>
<rect x="480.9" y="316" width="2.9" height="5.4" fill="#1f77b4"/>
<rect x="478.2" y="335.2" width="2.6" height="5.4" fill="#2ca02c"/>
<rect x="486.7" y="316" width="2.9" height="5.4" fill="#1f77b4"/>
<rect x="484" y="335.2" width="2.6" height="5.4" fill="#2ca02c"/>
<rect x="492.5" y="316" width="2.9" height="5.4" fill="#1f77b4"/>
<rect x="489.8" y="335.2" width="2.6" height="5.4" fill="#2ca02c"/>
<rect x="498.3" y="316" width="2.9" height="5.4" fill="#1f77b4"/>
<rect x="495.6" y="335.2" width="2.6" height="5.4" fill="#2ca02c"/>
<rect x="504.1" y="316" width="2.9" height="5.4" fill="#1f77b4"/>
<rect x="501.4" y="335.2" width="2.6" height="5.4" fill="#2ca02c"/>
<rect x="509.9" y="316" width="2.9" height="5.4" fill="#1f77b4"/>
<rect x="507.2" y="335.2" width="2.6" height="5.4" fill="#2ca02c"/>
<rect x="515.7" y="316" width="2.9" height="5.4" fill="#1f77b4"/>
<rect x="513" y="335.2" width="2.6" height="5.4" fill="#2ca02c"/>
<rect x="521.5" y="316" width="2.9" height="5.4" fill="#1f77b4"/>
<rect x="518.8" y="335.2" width="2.6" height="5.4" fill="#2ca02c"/>
<rect x="527.3" y="316" width="2.9" height="5.4" fill="#1f77b4"/>
<rect x="524.6" y="335.2" width="2.6" height="5.4" fill="#2ca02c"/>
<rect x="533.1" y="316" width="2.9" height="5.4" fill="#1f77b4"/>
<rect x="530.4" y="335.2" width="2.6" height="5.4" fill="#2ca02c"/>
<rect x="538.9" y="316" width="2.9" height="5.4" fill="#1f77b4"/>
<rect x="536.2" y="335.2" width="2.6" height="5.4" fill="#2ca02c"/>
<rect x="544.7" y="316" width="2.9" height="5.4" fill="#1f77b4"/>
<rect x="542" y="335.2" width="2.6" height="5.4" fill="#2ca02c"/>
<rect x="550.5" y="316" width="2.9" height="5.4" fill="#1f77b4"/>
<rect x="547.8" y="335.2" width="2.6" height="5.4" fill="#2ca02c"/>
<rect x="556.3" y="316" width="2.9" height="5.4" fill="#1f77b4"/>
<rect x="553.6" y="335.2" width="2.6" height="5.4" fill="#2ca02c"/>
<rect x="562.1" y="316" width="2.9" height="5.4" fill="#1f77b4"/>
<rect x="559.4" y="335.2" width="2.6" height="5.4" fill="#2ca02c"/>
<rect x="567.9" y="316" width="2.9" height="5.4" fill="#1f77b4"/>
<rect x="565.2" y="335.2" width="2.6" height="5.4" fill="#2ca02c"/>
<rect x="573.7" y="316" width="2.9" height="5.4" fill="#1f77b4"/>
<rect x="571" y="335.2" width="2.6" height="5.4" fill="#2ca02c"/>
<rect x="579.5" y="316" width="2.9" height="5.4" fill="#1f77b4"/>
<rect x="576.8" y="335.2" width="2.6" height="5.4" fill="#2ca02c"/>
<rect x="585.3" y="316" width="2.9" height="5.4" fill="#1f77b4"/>
<rect x="582.6" y="335.2" width="2.6" height="5.4" fill="#2ca02c"/>
<rect x="591.1" y="316" width="2.9" height="5.4" fill="#1f77b4"/>
<rect x="588.4" y="335.2" width="2.6" height="5.4" fill="#2ca02c"/>
<rect x="596.9" y="316" width="2.9" height="5.4" fill="#1f77b4"/>
<rect x="594.2" y="335.2" width="2.6" height="5.4" fill="#2ca02c"/>
<rect x="604" y="315.95" width="1.8" height="5.5" fill="#1f77b4"/>
<rect x="602.4" y="325.4" width="1.8" height="5.5" fill="#ff7f0e"/>
<rect x="600" y="335.2" width="2.6" height="5.4" fill="#2ca02c"/>
<rect x="609.8" y="315.95" width="1.8" height="5.5" fill="#1f77b4"/>
<rect x="608.2" y="325.4" width="1.8" height="5.5" fill="#ff7f0e"/>
<rect x="606.8" y="335.15" width="1.8" height="5.5" fill="#2ca02c"/>
<rect x="605.5" y="344.85" width="1.8" height="5.5" fill="#d62728"/>
<rect x="615.6" y="315.95" width="1.8" height="5.5" fill="#1f77b4"/>
<rect x="614" y="325.4" width="1.8" height="5.5" fill="#ff7f0e"/>
<rect x="612.6" y="335.15" width="1.8" height="5.5" fill="#2ca02c"/>
<rect x="611.3" y="344.85" width="1.8" height="5.5" fill="#d62728"/>
<rect x="621.4" y="315.95" width="1.8" height="5.5" fill="#1f77b4"/>
<rect x="619.8" y="325.4" width="1.8" height="5.5" fill="#ff7f0e"/>
<rect x="618.4" y="335.15" width="1.8" height="5.5" fill="#2ca02c"/>
<rect x="617.1" y="344.85" width="1.8" height="5.5" fill="#d62728"/>
<rect x="627.2" y="315.95" width="1.8" height="5.5" fill="#1f77b4"/>
<rect x="625.6" y="325.4" width="1.8" height="5.5" fill="#ff7f0e"/>
<rect x="624.2" y="335.15" width="1.8" height="5.5" fill="#2ca02c"/>
<rect x="622.9" y="344.85" width="1.8" height="5.5" fill="#d62728"/>
<rect x="633" y="315.95" width="1.8" height="5.5" fill="#1f77b4"/>
<rect x="631.4" y="325.4" width="1.8" height="5.5" fill="#ff7f0e"/>
<rect x="630" y="335.15" width="1.8" height="5.5" fill="#2ca02c"/>
<rect x="628.7" y="344.85" width="1.8" height="5.5" fill="#d62728"/>
<rect x="638.8" y="315.95" width="1.8" height="5.5" fill="#1f77b4"/>
<rect x="637.2" y="325.4" width="1.8" height="5.5" fill="#ff7f0e"/>
<rect x="635.8" y="335.15" width="1.8" height="5.5" fill="#2ca02c"/>
<rect x="634.5" y="344.85" width="1.8" height="5.5" fill="#d62728"/>
<rect x="644.6" y="315.95" width="1.8" height="5.5" fill="#1f77b4"/>
<rect x="643" y="325.4" width="1.8" height="5.5" fill="#ff7f0e"/>
<rect x="641.6" y="335.15" width="1.8" height="5.5" fill="#2ca02c"/>
<rect x="640.3" y="344.85" width="1.8" height="5.5" fill="#d62728"/>
<rect x="650.4" y="315.95" width="1.8" height="5.5" fill="#1f77b4"/>
<rect x="648.8" y="325.4" width="1.8" height="5.5" fill="#ff7f0e"/>
<rect x="647.4" y="335.15" width="1.8" height="5.5" fill="#2ca02c"/>
<rect x="646.1" y="344.85" width="1.8" height="5.5" fill="#d62728"/>
<rect x="656.2" y="315.95" width="1.8" height="5.5" fill="#1f77b4"/>
<rect x="654.6" y="325.4" width="1.8" height="5.5" fill="#ff7f0e"/>
<rect x="653.2" y="335.15" width="1.8" height="5.5" fill="#2ca02c"/>
<rect x="651.9" y="344.85" width="1.8" height="5.5" fill="#d62728"/>
<rect x="662" y="315.95" width="1.8" height="5.5" fill="#1f77b4"/>
<rect x="660.4" y="325.4" width="1.8" height="5.5" fill="#ff7f0e"/>
<rect x="659" y="335.15" width="1.8" height="5.5" fill="#2ca02c"/>
<rect x="657.7" y="344.85" width="1.8" height="5.5" fill="#d62728"/>
<rect x="667.8" y="315.95" width="1.8" height="5.5" fill="#1f77b4"/>
<rect x="666.2" y="325.4" width="1.8" height="5.5" fill="#ff7f0e"/>
<rect x="664.8" y="335.15" width="1.8" height="5.5" fill="#2ca02c"/>
<rect x="663.5" y="344.85" width="1.8" height="5.5" fill="#d62728"/>
<rect x="673.6" y="315.95" width="1.8" height="5.5" fill="#1f77b4"/>
<rect x="672" y="325.4" width="1.8" height="5.5" fill="#ff7f0e"/>
<rect x="670.6" y="335.15" width="1.8" height="5.5" fill="#2ca02c"/>
<rect x="669.3" y="344.85" width="1.8" height="5.5" fill="#d62728"/>
<text x="367.82" y="322.4" font-size="10" fill="#000">4</text>
<text x="367.82" y="332.2" font-size="10" fill="#000">2</text>
<path transform="translate(365.04,342.25) scale(0.004883,-0.004883)" d="M763,0L583,0L583,1147Q518,1085 412,1023Q306,961 222,930L222,1104Q373,1175 486,1276Q599,1377 646,1472L763,1472Z" fill="#000"/>
<text x="370.6" y="342.25" font-size="10" fill="#000">0</text>
<path transform="translate(367.82,352.1) scale(0.004883,-0.004883)" d="M763,0L583,0L583,1147Q518,1085 412,1023Q306,961 222,930L222,1104Q373,1175 486,1276Q599,1377 646,1472L763,1472Z" fill="#000"/>
<text x="367.82" y="361.9" font-size="10" fill="#000">3</text>
<text x="367.82" y="371.8" font-size="10" fill="#000">5</text>
<text x="367.82" y="382.3" font-size="10" fill="#000">6</text>
<text x="367.82" y="392" font-size="10" fill="#000">7</text>
<text x="367.82" y="402" font-size="10" fill="#000">8</text>
<text x="367.82" y="412.4" font-size="10" fill="#000">9</text>
<polyline fill="none" stroke="#1f77b4" stroke-width="0.9" stroke-linejoin="round" points="41.25,466.6 47.13,425.7 335.25,425.7"/>
<polyline fill="none" stroke="#1f77b4" stroke-width="1.4" stroke-linejoin="round" points="381.3,466.6 387.18,435.93 410.7,435.93 416.58,446.15 598.86,446.15 610.62,425.7 675.3,425.7"/>
<line x1="36.9" y1="425.6" x2="341.8" y2="425.6" stroke="#2ca05c" stroke-width="1.5" stroke-dasharray="6.4 3.537"/>
<line x1="377.3" y1="425.7" x2="682.3" y2="425.7" stroke="#3daa6c" stroke-width="1.5" stroke-dasharray="6.4 3.537"/>
<path transform="translate(28.02,429.1) scale(0.004883,-0.004883)" d="M763,0L583,0L583,1147Q518,1085 412,1023Q306,961 222,930L222,1104Q373,1175 486,1276Q599,1377 646,1472L763,1472Z" fill="#000"/>
<text x="28.02" y="469" font-size="10" fill="#000">0</text>
<path transform="translate(367.82,429.1) scale(0.004883,-0.004883)" d="M763,0L583,0L583,1147Q518,1085 412,1023Q306,961 222,930L222,1104Q373,1175 486,1276Q599,1377 646,1472L763,1472Z" fill="#000"/>
<text x="367.82" y="469" font-size="10" fill="#000">0</text>
<text x="39.97" y="481" font-size="10" fill="#000">0</text>
<text x="378.52" y="481" font-size="10" fill="#000">0</text>
<path transform="translate(95.96,481) scale(0.004883,-0.004883)" d="M763,0L583,0L583,1147Q518,1085 412,1023Q306,961 222,930L222,1104Q373,1175 486,1276Q599,1377 646,1472L763,1472Z" fill="#000"/>
<text x="101.52" y="481" font-size="10" fill="#000">0</text>
<path transform="translate(434.51,481) scale(0.004883,-0.004883)" d="M763,0L583,0L583,1147Q518,1085 412,1023Q306,961 222,930L222,1104Q373,1175 486,1276Q599,1377 646,1472L763,1472Z" fill="#000"/>
<text x="440.07" y="481" font-size="10" fill="#000">0</text>
<text x="154.73" y="481" font-size="10" fill="#000">2</text>
<text x="160.29" y="481" font-size="10" fill="#000">0</text>
<text x="493.28" y="481" font-size="10" fill="#000">2</text>
<text x="498.84" y="481" font-size="10" fill="#000">0</text>
<text x="213.5" y="481" font-size="10" fill="#000">3</text>
<text x="219.06" y="481" font-size="10" fill="#000">0</text>
<text x="552.05" y="481" font-size="10" fill="#000">3</text>
<text x="557.61" y="481" font-size="10" fill="#000">0</text>
<text x="272.27" y="481" font-size="10" fill="#000">4</text>
<text x="277.83" y="481" font-size="10" fill="#000">0</text>
<text x="610.82" y="481" font-size="10" fill="#000">4</text>
<text x="616.38" y="481" font-size="10" fill="#000">0</text>
<text x="331.04" y="481" font-size="10" fill="#000">5</text>
<text x="336.6" y="481" font-size="10" fill="#000">0</text>
<text x="669.59" y="481" font-size="10" fill="#000">5</text>
<text x="675.15" y="481" font-size="10" fill="#000">0</text>
<text x="188.9" y="493.6" text-anchor="middle" font-size="10" fill="#000">Epochs</text>
<text x="527.5" y="493.6" text-anchor="middle" font-size="10" fill="#000">Epochs</text>
<text transform="translate(8.6,278.1) rotate(-90)" text-anchor="middle" font-size="10" fill="#000">Ground</text>
<text transform="translate(19,278.2) rotate(-90)" text-anchor="middle" font-size="10" fill="#000">truth</text>
<text transform="translate(7,361.5) rotate(-90)" text-anchor="middle" font-size="10" fill="#000">Output spikes</text>
<text transform="translate(18.1,361.3) rotate(-90)" text-anchor="middle" font-size="10" fill="#000">(LTS neurons)</text>
<text transform="translate(14.7,446.1) rotate(-90)" text-anchor="middle" font-size="10" fill="#000">f-score</text>
</svg>
</body></html>
